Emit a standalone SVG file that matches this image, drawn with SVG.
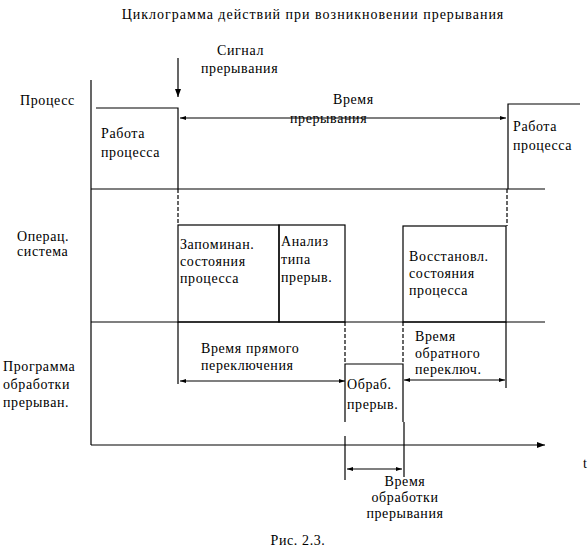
<svg xmlns="http://www.w3.org/2000/svg" width="588" height="558" viewBox="0 0 588 558" font-family="'Liberation Serif','Times New Roman',serif">
<style>
text{font-family:"Liberation Serif","Times New Roman",serif;font-size:14px;fill:#000;letter-spacing:0.6px}
.l{stroke:#000;stroke-width:1.2;fill:none}
.d{stroke:#000;stroke-width:1.2;fill:none;stroke-dasharray:4 2}
.c{text-anchor:middle}
</style>
<defs>
<marker id="ah" viewBox="0 0 8 6" refX="8" refY="3" markerWidth="8" markerHeight="6" orient="auto-start-reverse" markerUnits="userSpaceOnUse"><path d="M0,0 L8,3 L0,6 z" fill="#000"/></marker>
<marker id="sh" viewBox="0 0 6 4" refX="6" refY="2" markerWidth="6" markerHeight="4" orient="auto-start-reverse" markerUnits="userSpaceOnUse"><path d="M0,0 L6,2 L0,4 z" fill="#000"/></marker>
</defs>
<text x="313" y="19" class="c" style="letter-spacing:1px">Циклограмма действий при возникновении прерывания</text>
<g id="labels">
<text x="20" y="105">Процесс</text>
<text x="17" y="241">Операц.</text>
<text x="17" y="256">система</text>
<text x="3" y="371">Программа</text>
<text x="3" y="389">обработки</text>
<text x="3" y="407">прерыван.</text>
<text x="217" y="55">Сигнал</text>
<text x="201" y="73">прерывания</text>
<text x="583" y="468">t</text>
<text x="298" y="545" class="c">Рис. 2.3.</text>
</g>
<g id="axes">
<line class="l" x1="91" y1="80" x2="91" y2="445"/>
<line class="l" x1="91" y1="445" x2="545" y2="445" marker-end="url(#ah)"/>
<line class="l" x1="91" y1="189" x2="545" y2="189"/>
<line class="l" x1="91" y1="322" x2="545" y2="322"/>
</g>
<g id="proc1">
<path class="l" d="M96,108 H178 V189"/>
<text x="101" y="138">Работа</text>
<text x="101" y="157">процесса</text>
</g>
<g id="proc2">
<path class="l" d="M508,189 V104 H580"/>
<text x="513" y="131">Работа</text>
<text x="513" y="150">процесса</text>
</g>
<g id="os1">
<rect class="l" x="178" y="225" width="101" height="97"/>
<text x="180" y="249">Запоминан.</text>
<text x="180" y="266">состояния</text>
<text x="180" y="283">процесса</text>
</g>
<g id="os2">
<rect class="l" x="279" y="225" width="66" height="97"/>
<text x="281" y="246">Анализ</text>
<text x="281" y="264">типа</text>
<text x="281" y="282">прерыв.</text>
</g>
<g id="os3">
<rect class="l" x="403" y="226" width="103" height="96"/>
<text x="409" y="261">Восстановл.</text>
<text x="409" y="278">состояния</text>
<text x="409" y="295">процесса</text>
</g>
<g id="handler">
<path class="l" d="M345,422 V364 H403 V422"/>
<text x="347" y="389">Обраб.</text>
<text x="347" y="409">прерыв.</text>
</g>
<g id="connectors">
<line class="l" x1="178" y1="58" x2="178" y2="97" marker-end="url(#ah)"/>
<line class="l" x1="180" y1="118" x2="506" y2="118" marker-start="url(#sh)" marker-end="url(#sh)"/>
<line class="d" x1="178" y1="189" x2="178" y2="225"/>
<line class="d" x1="507" y1="189" x2="507" y2="226"/>
<line class="d" x1="345" y1="322" x2="345" y2="364"/>
<line class="d" x1="403" y1="322" x2="403" y2="364"/>
<line class="l" x1="178" y1="322" x2="178" y2="384"/>
<line class="l" x1="506" y1="322" x2="506" y2="388"/>
<line class="l" x1="180" y1="381" x2="345" y2="381" marker-start="url(#sh)" marker-end="url(#sh)"/>
<line class="l" x1="404" y1="380" x2="505" y2="380" marker-start="url(#sh)" marker-end="url(#sh)"/>
<line class="l" x1="345" y1="436" x2="345" y2="480"/>
<line class="l" x1="404" y1="422" x2="404" y2="477"/>
<line class="l" x1="347" y1="469" x2="402" y2="469" marker-start="url(#sh)" marker-end="url(#sh)"/>
</g>
<g id="time-labels">
<text x="333" y="104">Время</text>
<text x="290" y="123">прерывания</text>
<text x="201" y="353">Время прямого</text>
<text x="201" y="370">переключения</text>
<text x="415" y="341">Время</text>
<text x="415" y="358">обратного</text>
<text x="415" y="374">переключ.</text>
<text x="405" y="486" class="c">Время</text>
<text x="405" y="502" class="c">обработки</text>
<text x="405" y="518" class="c">прерывания</text>
</g>
</svg>
